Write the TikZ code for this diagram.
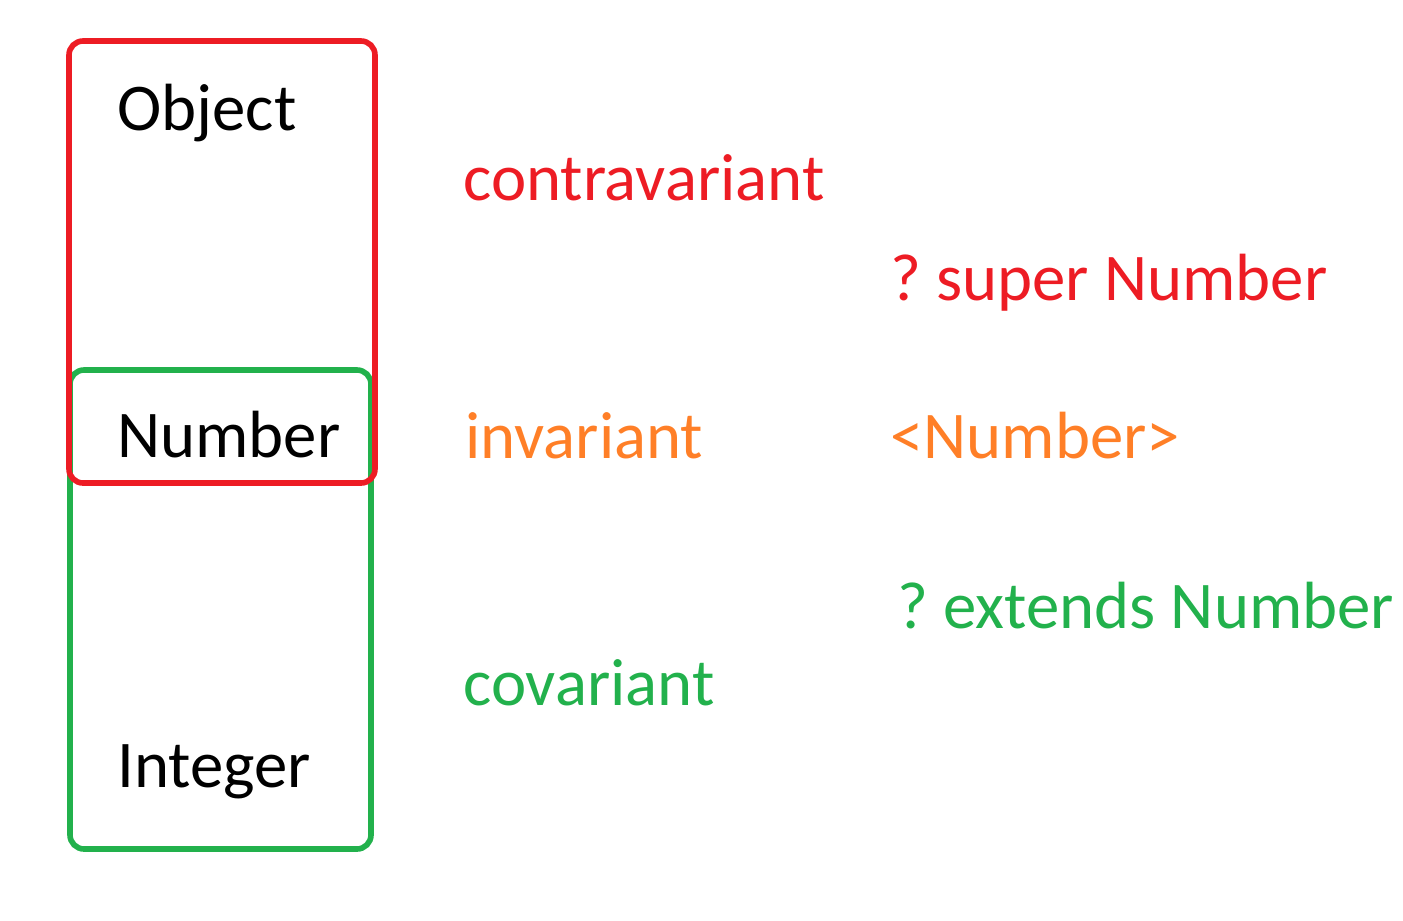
\documentclass[tikz,border=0pt]{standalone}
\usepackage{fontspec}
\setmainfont{Carlito}
\usepackage{tikz}

\definecolor{boxred}{HTML}{ED1C24}
\definecolor{boxgreen}{HTML}{22B14C}
\definecolor{txtorange}{HTML}{FF7F27}

\tikzset{
    lbl/.style={anchor=base west, inner sep=0pt, font=\fontsize{38}{44}\selectfont\frenchspacing},
    box/.style={line width=3.2pt, rounded corners=8pt}
}

\begin{document}
\begin{tikzpicture}[x=0.02cm,y=-0.02cm]

\useasboundingbox (0,0) rectangle (1403,920);

\coordinate (r1) at (69,41);
\coordinate (r2) at (375,483);
\coordinate (g1) at (70,370);
\coordinate (g2) at (371,849);

\draw[box,boxgreen] (g1) rectangle (g2);
\draw[box,boxred] (r1) rectangle (r2);

\node[lbl] (object) at (117,130) {Object};
\node[lbl] (number) at (117,457) {Number};
\node[lbl] (integer) at (117,787) {Integer};

\node[lbl,boxred] (contra) at (463,200) {contravariant};
\node[lbl,txtorange] (inv) at (465,458) {invariant};
\node[lbl,boxgreen] (co) at (463,705) {covariant};

\node[lbl,boxred] (super) at (890,300) {? super Number};
\node[lbl,txtorange] (exact) at (890,458) {<Number>};
\node[lbl,boxgreen] (extends) at (897,628) {? extends Number};

\end{tikzpicture}
\end{document}
